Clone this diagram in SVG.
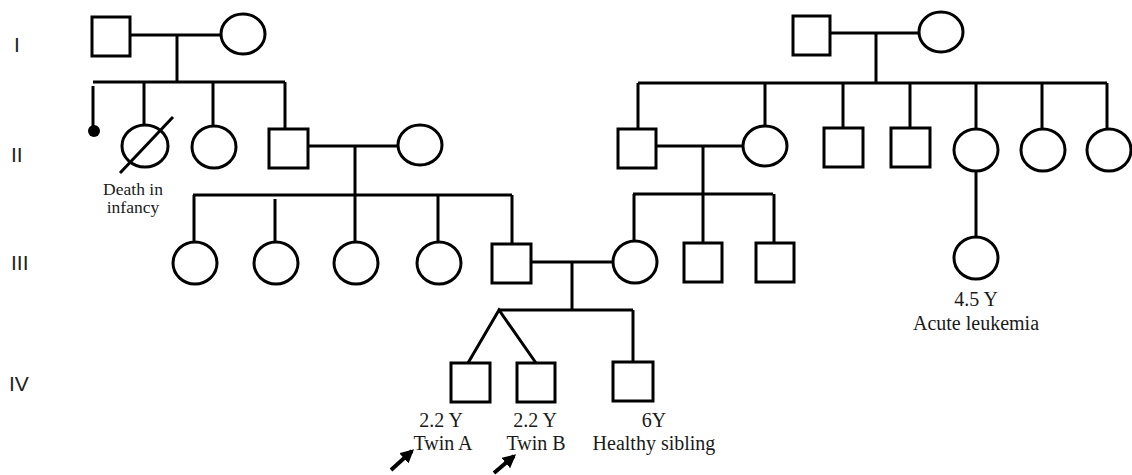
<svg xmlns="http://www.w3.org/2000/svg" width="1132" height="475" viewBox="0 0 1132 475">
<style>
.s{fill:#fff;stroke:#000;stroke-width:3}
.c line,.c path{stroke:#000;stroke-width:3;fill:none}
.t{font-family:"Liberation Serif","Times New Roman",serif;font-size:20px;fill:#1a1a1a;text-anchor:middle}
.g{font-family:"Liberation Sans",Arial,sans-serif;font-size:21px;fill:#222}
.arr{stroke:#000;stroke-width:4;fill:none}
</style>
<defs>
<marker id="ah" viewBox="0 0 10 10" refX="8" refY="5" markerWidth="3.4" markerHeight="3.4" orient="auto">
<path d="M0,0 L10,5 L0,10 z" fill="#000"/>
</marker>
</defs>
<rect width="1132" height="475" fill="#fff"/>
<g id="generations">
<text class="g" x="14" y="52">I</text>
<text class="g" x="11" y="162">II</text>
<text class="g" x="11" y="270">III</text>
<text class="g" x="9" y="391">IV</text>
</g>
<g class="c" id="connectors">
<line x1="130" y1="35" x2="221" y2="35"/>
<line x1="177" y1="35" x2="177" y2="82"/>
<line x1="93" y1="82" x2="285" y2="82"/>
<line x1="93" y1="86" x2="93" y2="126"/>
<line x1="144" y1="82" x2="144" y2="125"/>
<line x1="213" y1="82" x2="213" y2="126"/>
<line x1="285" y1="82" x2="285" y2="129"/>
<line x1="308" y1="146" x2="398" y2="146"/>
<line x1="355" y1="146" x2="355" y2="195"/>
<line x1="193" y1="195" x2="512" y2="195"/>
<line x1="194" y1="195" x2="194" y2="242"/>
<line x1="275" y1="199" x2="275" y2="242"/>
<line x1="355" y1="195" x2="355" y2="242"/>
<line x1="438" y1="195" x2="438" y2="242"/>
<line x1="512" y1="195" x2="512" y2="244"/>
<line x1="830" y1="33" x2="919" y2="33"/>
<line x1="876" y1="33" x2="876" y2="83"/>
<line x1="638" y1="83" x2="1107" y2="83"/>
<line x1="638" y1="83" x2="638" y2="129"/>
<line x1="765" y1="83" x2="765" y2="126"/>
<line x1="843" y1="83" x2="843" y2="128"/>
<line x1="910" y1="83" x2="910" y2="128"/>
<line x1="976" y1="83" x2="976" y2="129"/>
<line x1="1042" y1="83" x2="1042" y2="129"/>
<line x1="1107" y1="83" x2="1107" y2="129"/>
<line x1="656" y1="146" x2="743" y2="146"/>
<line x1="703" y1="146" x2="703" y2="194"/>
<line x1="633" y1="194" x2="773" y2="194"/>
<line x1="634" y1="194" x2="634" y2="241"/>
<line x1="703" y1="194" x2="703" y2="243"/>
<line x1="774" y1="194" x2="774" y2="243"/>
<line x1="976" y1="171" x2="976" y2="237"/>
<line x1="531" y1="262" x2="613" y2="262"/>
<line x1="572" y1="262" x2="572" y2="310"/>
<line x1="499" y1="310" x2="633" y2="310"/>
<path d="M468,363 L499,310 L536,363"/>
<line x1="633" y1="310" x2="633" y2="362"/>
</g>
<g id="I-1"><rect class="s" x="92" y="17" width="38" height="39"/></g>
<g id="I-2"><ellipse class="s" cx="243" cy="34" rx="22" ry="20"/></g>
<g id="I-3"><rect class="s" x="793" y="16" width="37" height="39"/></g>
<g id="I-4"><ellipse class="s" cx="941" cy="32" rx="22" ry="20"/></g>
<g id="II-1"><circle cx="94" cy="131" r="6" fill="#000"/></g>
<g id="II-2">
<ellipse class="s" cx="145" cy="146" rx="23" ry="21"/>
<line x1="120" y1="173" x2="173" y2="117" stroke="#000" stroke-width="3"/>
<text class="t" style="font-size:17.5px" x="133" y="195">Death in</text>
<text class="t" style="font-size:17.5px" x="133" y="213">infancy</text>
</g>
<g id="II-3"><ellipse class="s" cx="214" cy="147" rx="22" ry="21"/></g>
<g id="II-4"><rect class="s" x="269" y="129" width="39" height="39"/></g>
<g id="II-5"><ellipse class="s" cx="420" cy="145" rx="22" ry="20"/></g>
<g id="II-6"><rect class="s" x="618" y="129" width="38" height="39"/></g>
<g id="II-7"><ellipse class="s" cx="765" cy="146" rx="22" ry="20"/></g>
<g id="II-8"><rect class="s" x="824" y="128" width="39" height="39"/></g>
<g id="II-9"><rect class="s" x="891" y="128" width="39" height="39"/></g>
<g id="II-10"><ellipse class="s" cx="976" cy="150" rx="22" ry="21"/></g>
<g id="II-11"><ellipse class="s" cx="1043" cy="150" rx="22" ry="21"/></g>
<g id="II-12"><ellipse class="s" cx="1109" cy="150" rx="22" ry="21"/></g>
<g id="III-1"><ellipse class="s" cx="195" cy="263" rx="22" ry="21"/></g>
<g id="III-2"><ellipse class="s" cx="276" cy="263" rx="22" ry="21"/></g>
<g id="III-3"><ellipse class="s" cx="356" cy="263" rx="22" ry="21"/></g>
<g id="III-4"><ellipse class="s" cx="439" cy="263" rx="22" ry="21"/></g>
<g id="III-5"><rect class="s" x="492" y="244" width="39" height="39"/></g>
<g id="III-6"><ellipse class="s" cx="635" cy="262" rx="22" ry="21"/></g>
<g id="III-7"><rect class="s" x="684" y="243" width="38" height="39"/></g>
<g id="III-8"><rect class="s" x="756" y="243" width="38" height="39"/></g>
<g id="III-9">
<ellipse class="s" cx="976" cy="258" rx="22" ry="21"/>
<text class="t" x="976" y="306">4.5 Y</text>
<text class="t" x="976" y="330">Acute leukemia</text>
</g>
<g id="IV-1">
<rect class="s" x="451" y="363" width="39" height="39"/>
<text class="t" x="441" y="427">2.2 Y</text>
<text class="t" x="443" y="450">Twin A</text>
<line class="arr" x1="391" y1="470" x2="412" y2="451" marker-end="url(#ah)"/>
</g>
<g id="IV-2">
<rect class="s" x="517" y="363" width="38" height="39"/>
<text class="t" x="535" y="427">2.2 Y</text>
<text class="t" x="536" y="450">Twin B</text>
<line class="arr" x1="494" y1="473" x2="514" y2="456" marker-end="url(#ah)"/>
</g>
<g id="IV-3">
<rect class="s" x="613" y="362" width="40" height="39"/>
<text class="t" x="654" y="427">6Y</text>
<text class="t" x="654" y="450">Healthy sibling</text>
</g>
</svg>
